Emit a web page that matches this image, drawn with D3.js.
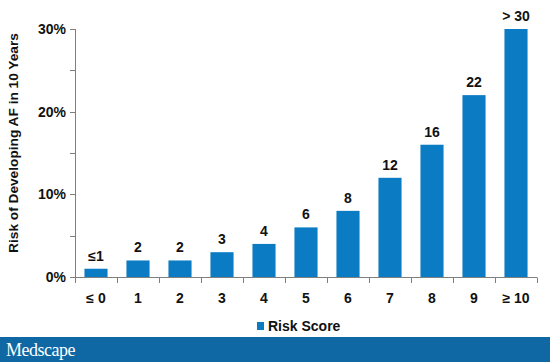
<!DOCTYPE html>
<html><head><meta charset="utf-8">
<script src="https://cdn.jsdelivr.net/npm/d3@7"></script>
<style>body{margin:0;background:#fff}svg{display:block}</style>
</head><body>
<svg id="c" width="550" height="362"></svg>
<script>
const categories = ["≤ 0","1","2","3","4","5","6","7","8","9","≥ 10"];
const values = [1,2,2,3,4,6,8,12,16,22,30];
const valueLabels = ["≤1","2","2","3","4","6","8","12","16","22","> 30"];
const yTicks = [0,10,20,30];
const yMinorTicks = [5,15,25];
const seriesName = "Risk Score";
const yTitle = "Risk of Developing AF in 10 Years";

const svg = d3.select("#c");
const font = "'Liberation Sans', Arial, sans-serif";
const barColor = "#0B7BC4";
const axisColor = "#7f7f7f";

const x = d3.scaleBand().domain(categories).range([75,537]).paddingInner(0.45).paddingOuter(0.225);
const y = d3.scaleLinear().domain([0,30]).range([277,29]);

// bars
svg.selectAll("rect.bar").data(values).enter().append("rect")
  .attr("class","bar")
  .attr("x",(d,i)=>x(categories[i]))
  .attr("width",x.bandwidth())
  .attr("y",d=>y(d))
  .attr("height",d=>y(0)-y(d))
  .attr("fill",barColor);

// value labels
svg.selectAll("text.val").data(values).enter().append("text")
  .attr("x",(d,i)=>x(categories[i])+x.bandwidth()/2)
  .attr("y",d=>y(d)-8)
  .attr("text-anchor","middle")
  .attr("font-family",font).attr("font-weight","bold").attr("font-size",14)
  .attr("fill","#111")
  .text((d,i)=>valueLabels[i]);

// y axis
svg.append("line").attr("x1",75.5).attr("x2",75.5).attr("y1",y(30)).attr("y2",y(0))
  .attr("stroke",axisColor).attr("stroke-width",1);
[...yTicks,...yMinorTicks].forEach(t=>{
  svg.append("line").attr("x1",70).attr("x2",75.5)
    .attr("y1",Math.round(y(t))+0.5).attr("y2",Math.round(y(t))+0.5)
    .attr("stroke",axisColor);
});
svg.selectAll("text.yt").data(yTicks).enter().append("text")
  .attr("x",66).attr("y",d=>y(d)+5)
  .attr("text-anchor","end")
  .attr("font-family",font).attr("font-weight","bold").attr("font-size",14)
  .attr("fill","#111")
  .text(d=>d+"%");

// x axis
svg.append("line").attr("x1",75).attr("x2",537).attr("y1",277.5).attr("y2",277.5)
  .attr("stroke",axisColor);
const step = x.step();
d3.range(categories.length+1).forEach(k=>{
  const xx = Math.round(x.range()[0] + k*step)+0.5;
  svg.append("line").attr("x1",xx).attr("x2",xx).attr("y1",277.5).attr("y2",283)
    .attr("stroke",axisColor);
});
svg.selectAll("text.xt").data(categories).enter().append("text")
  .attr("x",d=>x(d)+x.bandwidth()/2)
  .attr("y",303)
  .attr("text-anchor","middle")
  .attr("font-family",font).attr("font-weight","bold").attr("font-size",14)
  .attr("fill","#111")
  .text(d=>d);

// y title
svg.append("text")
  .attr("transform","translate(17.5,143) rotate(-90)")
  .attr("text-anchor","middle")
  .attr("font-family",font).attr("font-weight","bold").attr("font-size",13.7)
  .attr("fill","#111")
  .text(yTitle);

// legend
svg.append("rect").attr("x",257).attr("y",322).attr("width",7).attr("height",8).attr("fill",barColor);
svg.append("text").attr("x",268).attr("y",331)
  .attr("font-family",font).attr("font-weight","bold").attr("font-size",14)
  .attr("fill","#111").text(seriesName);

// footer
svg.append("rect").attr("x",0).attr("y",337).attr("width",550).attr("height",25).attr("fill","#0F68A4");
svg.append("text").attr("x",6).attr("y",356)
  .attr("font-family","'Liberation Serif','DejaVu Serif',serif").attr("font-size",18)
  .attr("fill","#fff").attr("letter-spacing","-0.5").text("Medscape");
</script>
</body></html>
